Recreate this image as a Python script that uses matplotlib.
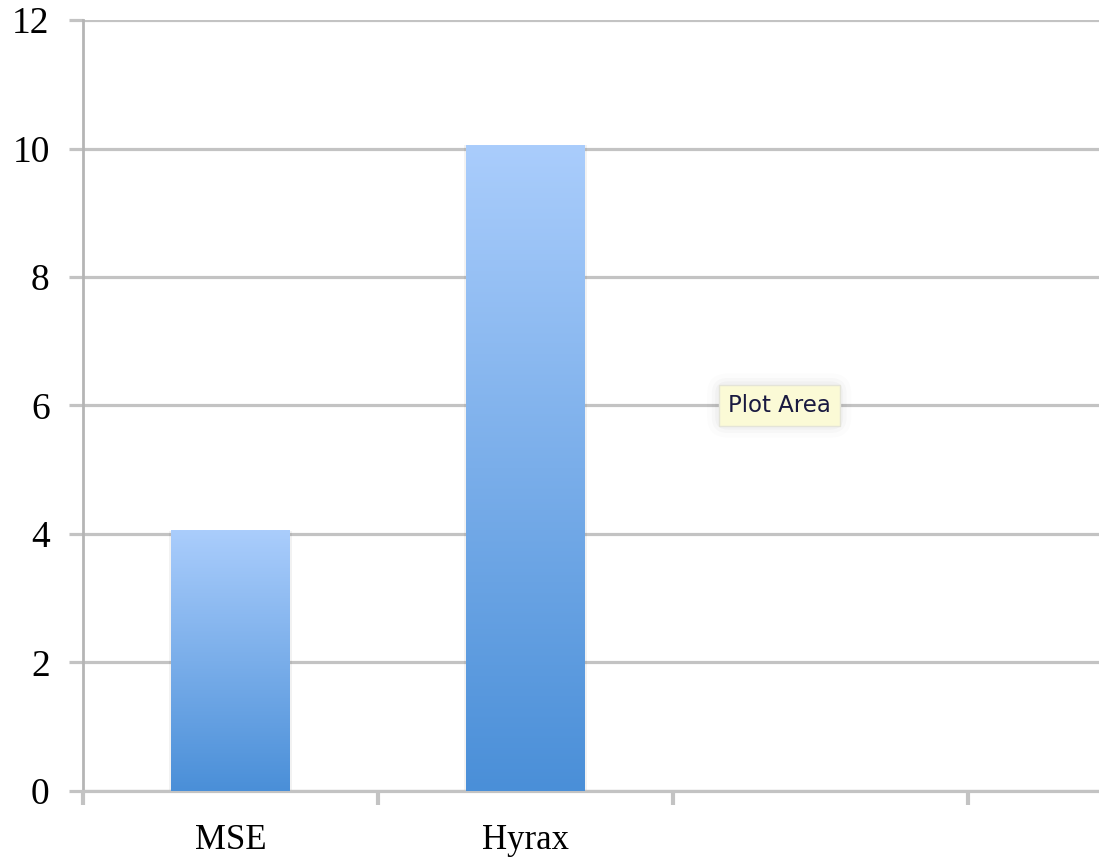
import matplotlib
matplotlib.use("Agg")
import matplotlib.pyplot as plt
import numpy as np
from matplotlib.colors import LinearSegmentedColormap

# data
categories = ["MSE", "Hyrax", "", ""]
values = [4.05, 10.05, 0, 0]
y_ticks = [0, 2, 4, 6, 8, 10, 12]

grid_grey = "#c3c3c3"
top_blue = "#aacdfc"
bottom_blue = "#4a8fd8"

plt.rcParams["font.family"] = ["Liberation Serif", "DejaVu Serif"]

fig = plt.figure(figsize=(10.99, 8.59), dpi=100)
ax = fig.add_axes([0.0755, 0.0792, 0.9245, 0.8975])

x = np.arange(len(categories))
bars = ax.bar(x, values, width=0.4, color="none", edgecolor="none", zorder=3)

cmap = LinearSegmentedColormap.from_list("bar", [bottom_blue, top_blue])
grad = np.linspace(0, 1, 256).reshape(-1, 1)
for b in bars:
    if b.get_height() <= 0:
        continue
    x0, w, h = b.get_x(), b.get_width(), b.get_height()
    # faint shadow around the bar
    ax.bar(x0 + w / 2, h, width=w * 1.04, color="#000000", alpha=0.05,
           zorder=2, edgecolor="none")
    ax.imshow(grad, cmap=cmap, origin="lower", aspect="auto",
              extent=(x0, x0 + w, 0, h), zorder=3, interpolation="bilinear")

ax.set_yticks(y_ticks)
ax.set_yticklabels([str(t) for t in y_ticks], fontsize=27)
ax.yaxis.grid(True, color=grid_grey, lw=2.3)
ax.set_axisbelow(True)

ax.set_xticks(x)
ax.set_xticklabels(categories, fontsize=25)
ax.set_xticks(np.arange(-0.5, 3, 1.0), minor=True)
ax.tick_params(axis="x", which="major", length=0, pad=24)
ax.tick_params(axis="x", which="minor", length=10, width=3, color=grid_grey)
ax.tick_params(axis="y", length=10, width=2.3, color=grid_grey, pad=14)

# limits after the ticks, set_xticks would widen them otherwise
ax.set_xlim(-0.5, 2.944)
ax.set_ylim(0, 12)

for s in ["top", "right"]:
    ax.spines[s].set_visible(False)
ax.spines["left"].set_color("#b5b5b5")
ax.spines["left"].set_linewidth(2.0)
ax.spines["bottom"].set_color(grid_grey)
ax.spines["bottom"].set_linewidth(2.3)

# "Plot Area" tooltip, with a soft glow behind it
for pad, alpha in [(0.9, 0.012), (0.7, 0.018), (0.55, 0.025)]:
    ax.text(1.86, 6.0, "Plot Area", family="DejaVu Sans", fontsize=16.5,
            color="none", ha="center", va="center", zorder=4,
            bbox=dict(boxstyle=f"round,pad={pad}", fc="#000000",
                      ec="none", alpha=alpha))
ax.text(1.86, 6.0, "Plot Area", family="DejaVu Sans", fontsize=16.5,
        color="#1a1a40", ha="center", va="center", zorder=5,
        bbox=dict(boxstyle="square,pad=0.4", fc="#fbfad6", ec="#e4e4d8",
                  lw=1))

fig.savefig("out.png", dpi=100)
